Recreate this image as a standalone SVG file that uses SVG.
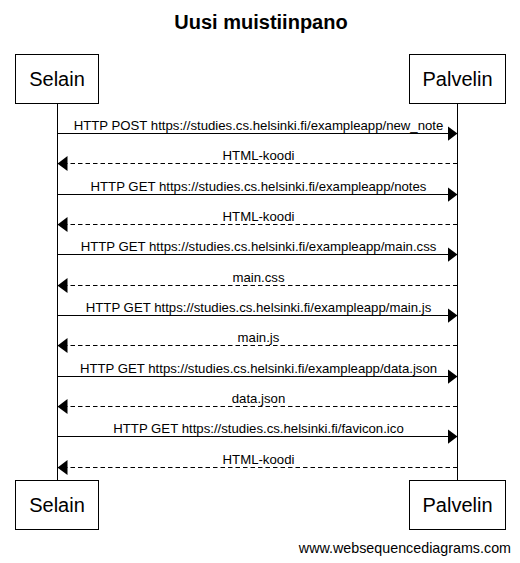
<svg xmlns="http://www.w3.org/2000/svg" width="520" height="563" viewBox="0 0 520 563">
<style>
.box{fill:#fff;stroke:#000;stroke-width:1}
.pt{font-family:"Liberation Sans",Arial,sans-serif;font-size:20px;text-anchor:middle;fill:#000}
.life{stroke:#000;stroke-width:1}
.msg{stroke:#000;stroke-width:1;fill:none}
.dash{stroke-dasharray:4.5 3}
.lbl{font-family:"Liberation Sans",Arial,sans-serif;font-size:13.2px;text-anchor:middle;fill:#000}
</style>
<defs>
<marker id="ah" viewBox="0 0 10 15" refX="10" refY="7.5" markerWidth="10" markerHeight="15" markerUnits="userSpaceOnUse" orient="auto">
<path d="M0,0 L10,7.5 L0,15 Z" fill="#000"/>
</marker>
</defs>
<rect width="520" height="563" fill="#fff"/>
<text x="261" y="29" font-family="Liberation Sans,Arial,sans-serif" font-size="20" font-weight="bold" text-anchor="middle">Uusi muistiinpano</text>
<g id="lifelines">
<line class="life" x1="57.5" y1="103" x2="57.5" y2="480"/>
<line class="life" x1="457.5" y1="103" x2="457.5" y2="480"/>
</g>
<g id="selain-top"><rect class="box" x="15.5" y="54.5" width="83" height="49"/><text class="pt" x="57" y="86">Selain</text></g>
<g id="palvelin-top"><rect class="box" x="409.5" y="54.5" width="96" height="49"/><text class="pt" x="457.5" y="86">Palvelin</text></g>
<g id="selain-bottom"><rect class="box" x="15.5" y="480.5" width="83" height="49"/><text class="pt" x="57" y="512">Selain</text></g>
<g id="palvelin-bottom"><rect class="box" x="409.5" y="480.5" width="96" height="49"/><text class="pt" x="457.5" y="512">Palvelin</text></g>
<g id="connectors">
<line class="msg" x1="57.5" y1="133.5" x2="457.5" y2="133.5" marker-end="url(#ah)"/>
<text class="lbl" x="258.5" y="130">HTTP POST https://studies.cs.helsinki.fi/exampleapp/new_note</text>
<line class="msg dash" x1="457.5" y1="163.5" x2="57.5" y2="163.5" marker-end="url(#ah)"/>
<text class="lbl" x="258.5" y="160">HTML-koodi</text>
<line class="msg" x1="57.5" y1="194.5" x2="457.5" y2="194.5" marker-end="url(#ah)"/>
<text class="lbl" x="258.5" y="191">HTTP GET https://studies.cs.helsinki.fi/exampleapp/notes</text>
<line class="msg dash" x1="457.5" y1="224.5" x2="57.5" y2="224.5" marker-end="url(#ah)"/>
<text class="lbl" x="258.5" y="221">HTML-koodi</text>
<line class="msg" x1="57.5" y1="254.5" x2="457.5" y2="254.5" marker-end="url(#ah)"/>
<text class="lbl" x="258.5" y="251">HTTP GET https://studies.cs.helsinki.fi/exampleapp/main.css</text>
<line class="msg dash" x1="457.5" y1="285.5" x2="57.5" y2="285.5" marker-end="url(#ah)"/>
<text class="lbl" x="258.5" y="282">main.css</text>
<line class="msg" x1="57.5" y1="315.5" x2="457.5" y2="315.5" marker-end="url(#ah)"/>
<text class="lbl" x="258.5" y="312">HTTP GET https://studies.cs.helsinki.fi/exampleapp/main.js</text>
<line class="msg dash" x1="457.5" y1="345.5" x2="57.5" y2="345.5" marker-end="url(#ah)"/>
<text class="lbl" x="258.5" y="342">main.js</text>
<line class="msg" x1="57.5" y1="376.5" x2="457.5" y2="376.5" marker-end="url(#ah)"/>
<text class="lbl" x="258.5" y="373">HTTP GET https://studies.cs.helsinki.fi/exampleapp/data.json</text>
<line class="msg dash" x1="457.5" y1="406.5" x2="57.5" y2="406.5" marker-end="url(#ah)"/>
<text class="lbl" x="258.5" y="403">data.json</text>
<line class="msg" x1="57.5" y1="436.5" x2="457.5" y2="436.5" marker-end="url(#ah)"/>
<text class="lbl" x="258.5" y="433">HTTP GET https://studies.cs.helsinki.fi/favicon.ico</text>
<line class="msg dash" x1="457.5" y1="467.5" x2="57.5" y2="467.5" marker-end="url(#ah)"/>
<text class="lbl" x="258.5" y="464">HTML-koodi</text>
</g>
<text x="511" y="553" font-family="Liberation Sans,Arial,sans-serif" font-size="14.3" text-anchor="end">www.websequencediagrams.com</text>
</svg>
